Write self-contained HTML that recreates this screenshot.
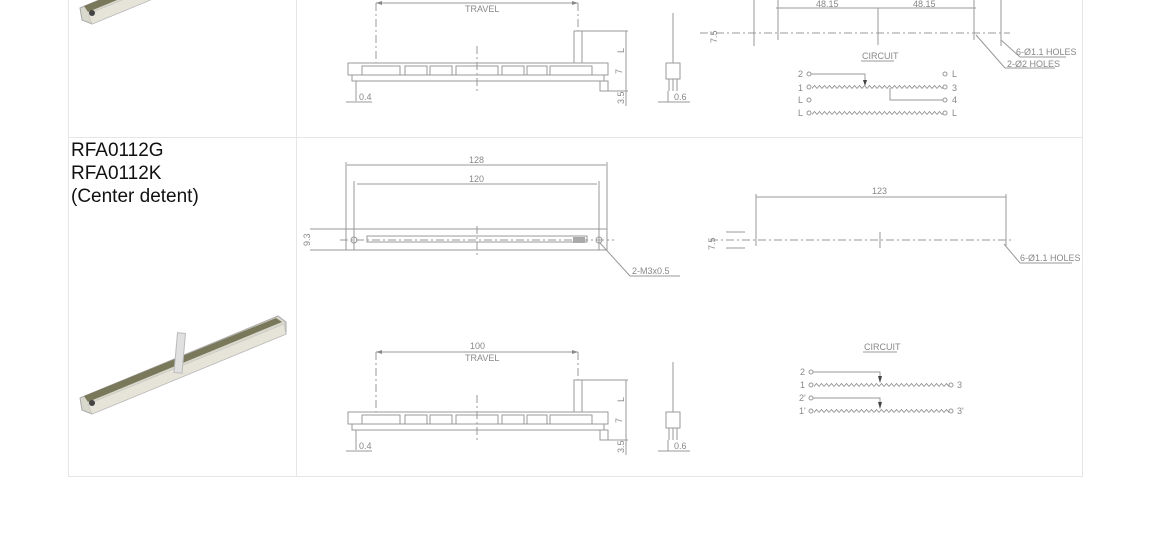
<!DOCTYPE html>
<html><head><meta charset="utf-8"><style>
body{margin:0;background:#fff;width:1150px;height:535px;overflow:hidden;font-family:"Liberation Sans",sans-serif}
svg{position:absolute;left:0;top:0}
.t{font-family:"Liberation Sans",sans-serif;font-size:9px;fill:#888}
.l{stroke:#999;stroke-width:1;fill:none}
.d{stroke:#999;stroke-width:1;fill:none;stroke-dasharray:8 3 2 3}
#lbl{position:absolute;left:71px;top:139px;font-size:19px;line-height:23px;color:#111}
</style></head><body>
<svg width="1150" height="535" viewBox="0 0 1150 535">
<defs>
<pattern id="zz" x="0" y="0" width="5" height="6" patternUnits="userSpaceOnUse"><polyline points="0,4.5 2.5,1.5 5,4.5" stroke="#888" fill="none" stroke-width="0.8"/></pattern>
<g id="side">
 <line class="l" x1="376" y1="352" x2="578" y2="352"/>
 <polygon points="376,352 382,350 382,354" fill="#888"/><polygon points="578,352 572,350 572,354" fill="#888"/>
 <line class="d" x1="376" y1="352" x2="376" y2="412"/>
 <line class="d" x1="578" y1="352" x2="578" y2="380"/>
 <text class="t" x="470" y="349">100</text><text class="t" x="465" y="361" font-size="8">TRAVEL</text>
 <rect class="l" x="574" y="380" width="8" height="32"/>
 <line class="l" x1="582" y1="380" x2="628" y2="380"/>
 <line class="l" x1="626" y1="380" x2="626" y2="455"/>
 <text class="t" x="618" y="400" transform="rotate(-90 622 398)">L</text>
 <text class="t" x="616" y="421" transform="rotate(-90 620 419)">7</text>
 <text class="t" x="614" y="451" transform="rotate(-90 620 447)">3.5</text>
 <rect class="l" x="348" y="412" width="260" height="12"/>
 <rect class="l" x="352" y="424" width="252" height="6"/>
 <g class="l"><rect x="362" y="415" width="38" height="9"/><rect x="405" y="415" width="22" height="9"/><rect x="430" y="415" width="22" height="9"/><rect x="456" y="415" width="42" height="9"/><rect x="502" y="415" width="22" height="9"/><rect x="527" y="415" width="20" height="9"/><rect x="550" y="415" width="42" height="9"/></g>
 <line class="d" x1="477" y1="395" x2="477" y2="440"/>
 <line class="l" x1="356" y1="430" x2="356" y2="450"/>
 <line class="l" x1="346" y1="451" x2="372" y2="451"/>
 <text class="t" x="359" y="449">0.4</text>
 <rect class="l" x="600" y="430" width="8" height="10"/>
 <line class="l" x1="608" y1="440" x2="628" y2="440"/>
 <rect class="l" x="666" y="412" width="14" height="16"/>
 <line class="l" x1="673" y1="362" x2="673" y2="412"/>
 <line class="l" x1="669" y1="428" x2="669" y2="440"/><line class="l" x1="673" y1="428" x2="673" y2="440"/><line class="l" x1="677" y1="428" x2="677" y2="440"/>
 <line class="l" x1="658" y1="451" x2="690" y2="451"/><line class="l" x1="668" y1="440" x2="668" y2="451"/>
 <text class="t" x="674" y="449">0.6</text>
</g>
<g id="slider">
 <polygon points="80,398 278,316 286,322 286,334 92,414 82,410" fill="#d8d8cc" stroke="#aaa"/>
 <polygon points="84,396 276,318 282,322 88,402" fill="#7a785a"/>
 <polygon points="88,404 284,324 286,334 92,414" fill="#e6e4d8" stroke="#bbb" stroke-width="0.5"/>
 <circle cx="92" cy="403" r="3" fill="#444"/>
</g>
</defs>
<g stroke="#e6e6e6" fill="none">
 <line x1="68.5" y1="0" x2="68.5" y2="476.5"/>
 <line x1="296.5" y1="0" x2="296.5" y2="476.5"/>
 <line x1="1082.5" y1="0" x2="1082.5" y2="476.5"/>
 <line x1="68" y1="137.5" x2="1083" y2="137.5"/>
 <line x1="68" y1="476.5" x2="1083" y2="476.5"/>
</g>
<use href="#side" transform="translate(0,-349)"/>
<use href="#slider" transform="translate(0,-390)"/>
<g>
 <line class="l" x1="776" y1="8" x2="976" y2="8"/>
 <line class="l" x1="778" y1="0" x2="778" y2="40"/><line class="l" x1="878" y1="8" x2="878" y2="45"/><line class="l" x1="974" y1="0" x2="974" y2="40"/>
 <text class="t" x="816" y="7">48.15</text><text class="t" x="913" y="7">48.15</text>
 <line class="d" x1="700" y1="33" x2="1010" y2="33"/>
 <line class="l" x1="754" y1="0" x2="754" y2="46"/><line class="l" x1="1001" y1="0" x2="1001" y2="46"/>
 <text class="t" x="700" y="40" transform="rotate(-90 710 33)">7.5</text>
 <line class="l" x1="1001" y1="40" x2="1020" y2="57"/><line class="l" x1="1020" y1="57" x2="1066" y2="57"/>
 <text class="t" x="1016" y="55">6-Ø1.1 HOLES</text>
 <line class="l" x1="976" y1="35" x2="1005" y2="68"/><line class="l" x1="1005" y1="68" x2="1055" y2="68"/>
 <text class="t" x="1007" y="67">2-Ø2 HOLES</text>
 <text class="t" x="862" y="59">CIRCUIT</text><line class="l" x1="861" y1="61" x2="894" y2="61"/>
 <g class="t"><text x="798" y="77">2</text><text x="798" y="91">1</text><text x="798" y="103">L</text><text x="798" y="116">L</text>
 <text x="952" y="77">L</text><text x="952" y="91">3</text><text x="952" y="103">4</text><text x="952" y="116">L</text></g>
 <g class="l"><circle cx="809" cy="74" r="2"/><circle cx="809" cy="87" r="2"/><circle cx="809" cy="100" r="2"/><circle cx="809" cy="113" r="2"/>
 <circle cx="945" cy="74" r="2"/><circle cx="945" cy="87" r="2"/><circle cx="945" cy="100" r="2"/><circle cx="945" cy="113" r="2"/>
 <polyline points="811,74 865,74 865,84"/><polyline points="890,88 890,100 943,100"/></g>
 <polygon points="863,80 867,80 865,86" fill="#444"/>
 <g transform="translate(812,84)"><rect width="131" height="6" fill="url(#zz)"/></g>
 <g transform="translate(812,110)"><rect width="131" height="6" fill="url(#zz)"/></g>
</g>
<g>
 <line class="l" x1="347" y1="165" x2="606" y2="165"/><text class="t" x="469" y="163">128</text>
 <line class="l" x1="357" y1="184" x2="597" y2="184"/><text class="t" x="469" y="182">120</text>
 <line class="l" x1="346" y1="162" x2="346" y2="250"/><line class="l" x1="607" y1="162" x2="607" y2="250"/>
 <line class="l" x1="354" y1="181" x2="354" y2="250"/><line class="l" x1="599" y1="181" x2="599" y2="250"/>
 <rect class="l" x="346" y="229" width="261" height="21"/>
 <rect class="l" x="367" y="236" width="220" height="6"/>
 <line class="d" x1="340" y1="240" x2="614" y2="240"/>
 <line class="d" x1="477" y1="226" x2="477" y2="256"/>
 <circle class="l" cx="354" cy="240" r="3"/><circle class="l" cx="599" cy="240" r="3"/>
 <rect x="573" y="237" width="12" height="6" fill="#aaa"/>
 <line class="l" x1="310" y1="229" x2="346" y2="229"/><line class="l" x1="310" y1="250" x2="346" y2="250"/>
 <text class="t" x="298" y="244" transform="rotate(-90 305 239)">9.3</text>
 <line class="l" x1="600" y1="243" x2="630" y2="276"/><line class="l" x1="630" y1="276" x2="680" y2="276"/>
 <text class="t" x="632" y="274">2-M3x0.5</text>
</g>
<g>
 <line class="l" x1="756" y1="197" x2="1006" y2="197"/><text class="t" x="872" y="194">123</text>
 <line class="l" x1="756" y1="194" x2="756" y2="246"/><line class="l" x1="1006" y1="194" x2="1006" y2="246"/>
 <line class="d" x1="710" y1="240" x2="1014" y2="240"/>
 <line class="l" x1="880" y1="232" x2="880" y2="248"/>
 <text class="t" x="700" y="245" transform="rotate(-90 710 240)">7.5</text>
 <line class="l" x1="726" y1="232" x2="745" y2="232"/><line class="l" x1="726" y1="248" x2="745" y2="248"/>
 <line class="l" x1="1004" y1="244" x2="1020" y2="263"/><line class="l" x1="1020" y1="263" x2="1072" y2="263"/>
 <text class="t" x="1020" y="261">6-Ø1.1 HOLES</text>
 <text class="t" x="864" y="350">CIRCUIT</text><line class="l" x1="863" y1="352" x2="897" y2="352"/>
 <g class="t"><text x="800" y="375">2</text><text x="800" y="388">1</text><text x="799" y="401">2'</text><text x="799" y="414">1'</text><text x="957" y="388">3</text><text x="957" y="414">3'</text></g>
 <g class="l"><circle cx="811" cy="372" r="2"/><circle cx="811" cy="385" r="2"/><circle cx="811" cy="398" r="2"/><circle cx="811" cy="411" r="2"/>
 <circle cx="951" cy="385" r="2"/><circle cx="951" cy="411" r="2"/>
 <polyline points="813,372 880,372 880,380"/><polyline points="813,398 880,398 880,406"/></g>
 <polygon points="878,376 882,376 880,383" fill="#444"/><polygon points="878,402 882,402 880,409" fill="#444"/>
 <g transform="translate(814,382)"><rect width="135" height="6" fill="url(#zz)"/></g>
 <g transform="translate(814,408)"><rect width="135" height="6" fill="url(#zz)"/></g>
</g>
<use href="#side"/>
<use href="#slider"/>
<rect x="176" y="333" width="8" height="40" fill="#e0e0e0" stroke="#bbb" transform="rotate(5 180 350)"/>
</svg>
<div id="lbl">RFA0112G<br>RFA0112K<br>(Center detent)</div>
</body></html>
